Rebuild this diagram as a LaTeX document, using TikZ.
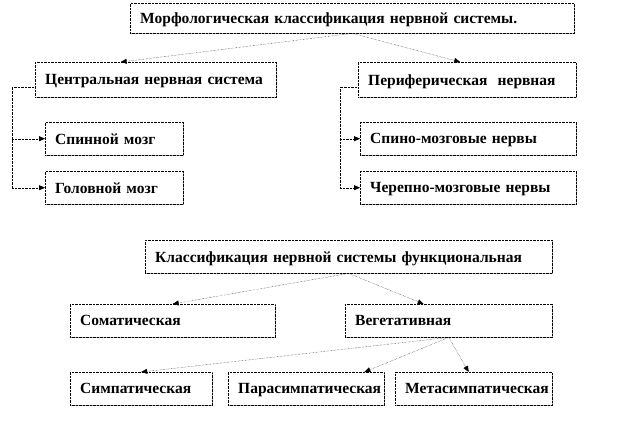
\documentclass[tikz,border=0pt]{standalone}
\usepackage{fontspec}
\setmainfont{Liberation Serif}
\usetikzlibrary{arrows.meta,shadows}

\begin{document}
\begin{tikzpicture}[x=1pt,y=-1pt,>={Triangle[length=6pt,width=5pt]},semithick]
\tikzset{box/.style={draw,densely dotted,thin,fill=white,anchor=north west,
    align=left,inner xsep=10pt,text width=#1,text depth=0pt,
    drop shadow={shadow xshift=1.2pt,shadow yshift=-1.2pt,fill=black!70}},
  link/.style={->,densely dotted,thin}}
\tikzset{font=\fontsize{15.5pt}{17}\selectfont\bfseries}
\useasboundingbox (0,0) rectangle (636,423);

        % morphological classification
        \node[box=424pt,minimum height=30pt] (morph) at (130,3) {Морфологическая классификация нервной системы.};
        \node[box=221pt,minimum height=35pt] (cns) at (35,62) {Центральная нервная система};
        \node[box=198pt,minimum height=35pt] (pns) at (358,62) {Периферическая\ \ нервная};
        \node[box=118pt,minimum height=33pt] (spin) at (45,122) {Спинной мозг};
        \node[box=118pt,minimum height=33pt] (head) at (45,171) {Головной мозг};
        \node[box=196pt,minimum height=33pt] (spnerv) at (360,122) {Спино-мозговые нервы};
        \node[box=196pt,minimum height=33pt] (crnerv) at (360,171) {Черепно-мозговые нервы};

        % functional classification
        \node[box=387pt,minimum height=33pt] (func) at (145,240) {Классификация нервной системы функциональная};
        \node[box=185pt,minimum height=33pt] (soma) at (70,304) {Соматическая};
        \node[box=187pt,minimum height=33pt] (veg) at (345,304) {Вегетативная};
        \node[box=122pt,minimum height=33pt] (symp) at (70,372) {Симпатическая};
        \node[box=136pt,minimum height=33pt] (para) at (228,372) {Парасимпатическая};
        \node[box=137pt,minimum height=33pt] (meta) at (395,372) {Метасимпатическая};

        \coordinate (cl) at (12,87);
        \coordinate (pl) at (340,87);

        \path[link]
        (morph.south) edge ([xshift=-35pt]cns.north)
        (morph.south) edge ([xshift=-7pt]pns.north)
        (func.south)  edge (soma.north)
        (func.south)  edge ([xshift=-25pt]veg.north)
        (veg.south)   edge (symp.north)
        (veg.south)   edge ([xshift=-20pt]para.north east)
        (veg.south)   edge ([xshift=-5pt]meta.north)
        ; %end path

        \draw[link,-] (cns.west|-cl) -- (cl) -- (cl|-head.west);
        \draw[link] (cl|-spin.west) -- (spin.west);
        \draw[link] (cl|-head.west) -- (head.west);
        \draw[link,-] (pns.west|-pl) -- (pl) -- (pl|-crnerv.west);
        \draw[link] (pl|-spnerv.west) -- (spnerv.west);
        \draw[link] (pl|-crnerv.west) -- (crnerv.west);
\end{tikzpicture}
\end{document}
